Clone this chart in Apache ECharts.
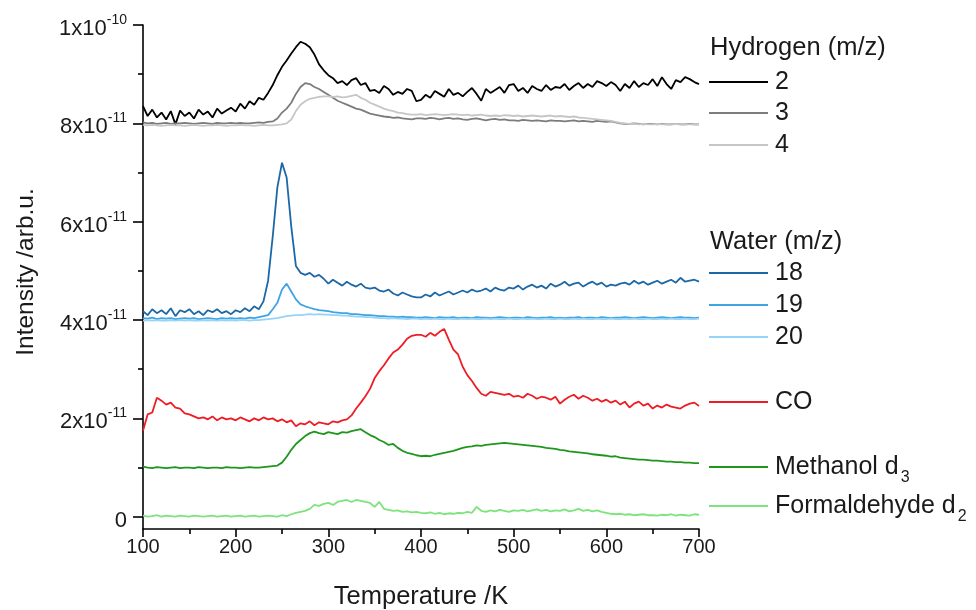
<!DOCTYPE html>
<html>
<head>
<meta charset="utf-8">
<script src="https://cdn.jsdelivr.net/npm/echarts@6/dist/echarts.min.js"></script>
<style>
  html, body { margin: 0; padding: 0; background: #fff; }
  #chart { width: 976px; height: 610px; }
</style>
</head>
<body>
<div id="chart"></div>
<script>
// Temperature programmed desorption traces, intensity in units of 1e-11 (arb.u.)
const TEMPS = [100,105,110,115,120,125,130,135,140,145,150,155,160,165,170,175,180,185,190,195,
  200,205,210,215,220,225,230,235,240,245,250,255,260,265,270,275,280,285,290,295,
  300,305,310,315,320,325,330,335,340,345,350,355,360,365,370,375,380,385,390,395,
  400,405,410,415,420,425,430,435,440,445,450,455,460,465,470,475,480,485,490,495,
  500,505,510,515,520,525,530,535,540,545,550,555,560,565,570,575,580,585,590,595,
  600,605,610,615,620,625,630,635,640,645,650,655,660,665,670,675,680,685,690,695,700];

const H_MZ2 = [8.35,8.15,8.28,8.12,8.22,8.08,8.25,7.98,8.26,8.15,
  8.22,8.10,8.28,8.18,8.24,8.12,8.30,8.20,8.26,8.32,
  8.24,8.40,8.30,8.45,8.38,8.52,8.48,8.62,8.78,8.98,
  9.15,9.28,9.42,9.55,9.66,9.62,9.55,9.40,9.20,9.08,
  8.98,8.92,8.82,8.86,8.78,8.88,8.92,8.78,8.82,8.66,
  8.68,8.62,8.76,8.70,8.58,8.64,8.60,8.70,8.66,8.45,
  8.48,8.58,8.52,8.66,8.60,8.54,8.70,8.58,8.62,8.55,
  8.64,8.72,8.60,8.46,8.70,8.62,8.68,8.74,8.62,8.78,
  8.80,8.66,8.72,8.62,8.76,8.70,8.66,8.78,8.68,8.74,
  8.72,8.80,8.68,8.76,8.82,8.72,8.80,8.74,8.86,8.82,
  8.76,8.84,8.78,8.66,8.80,8.72,8.86,8.74,8.82,8.78,
  8.90,8.76,8.94,8.80,8.70,8.88,8.84,8.94,8.90,8.84,8.80];

const H_MZ3 = [8.02,8.00,8.01,7.99,8.00,8.01,7.99,8.00,8.00,8.01,
  8.00,7.99,8.00,8.01,8.00,7.99,8.01,8.00,8.00,8.01,
  8.00,8.01,8.00,8.00,8.01,8.02,8.01,8.03,8.04,8.10,
  8.22,8.30,8.42,8.60,8.74,8.82,8.80,8.74,8.70,8.64,
  8.58,8.52,8.46,8.42,8.38,8.34,8.30,8.28,8.24,8.20,
  8.18,8.16,8.14,8.13,8.11,8.12,8.10,8.09,8.08,8.10,
  8.10,8.09,8.11,8.10,8.08,8.10,8.11,8.09,8.10,8.08,
  8.07,8.09,8.10,8.08,8.06,8.08,8.09,8.07,8.08,8.06,
  8.06,8.05,8.07,8.06,8.05,8.06,8.05,8.04,8.06,8.05,
  8.05,8.04,8.05,8.06,8.04,8.05,8.04,8.03,8.05,8.04,
  8.03,8.04,8.02,8.00,7.99,7.99,8.00,7.99,7.98,7.99,
  7.99,7.98,7.99,7.98,7.98,7.99,7.98,7.98,7.99,7.98,7.98];

const H_MZ4 = [7.97,7.96,7.97,7.96,7.95,7.96,7.97,7.96,7.96,7.95,
  7.96,7.97,7.96,7.95,7.96,7.96,7.97,7.96,7.95,7.96,
  7.96,7.97,7.96,7.96,7.95,7.96,7.97,7.96,7.96,7.97,
  7.98,8.00,8.08,8.25,8.38,8.45,8.50,8.52,8.54,8.55,
  8.55,8.54,8.55,8.53,8.54,8.56,8.58,8.52,8.48,8.42,
  8.38,8.34,8.30,8.27,8.25,8.22,8.21,8.19,8.18,8.18,
  8.19,8.17,8.18,8.19,8.18,8.17,8.18,8.19,8.18,8.17,
  8.18,8.16,8.17,8.18,8.16,8.15,8.16,8.15,8.17,8.16,
  8.15,8.16,8.14,8.15,8.16,8.15,8.14,8.15,8.16,8.14,
  8.15,8.14,8.13,8.14,8.12,8.11,8.10,8.09,8.08,8.07,
  8.06,8.05,8.03,8.01,8.00,7.99,7.99,7.98,7.99,7.98,
  7.98,7.99,7.98,7.98,7.98,7.99,7.98,7.98,7.98,7.98,7.98];

const W_MZ18 = [4.18,4.10,4.22,4.14,4.20,4.12,4.24,4.08,4.20,4.16,
  4.22,4.12,4.18,4.10,4.20,4.16,4.22,4.14,4.18,4.12,
  4.20,4.16,4.24,4.18,4.28,4.22,4.38,4.80,5.70,6.70,
  7.20,6.90,5.90,5.10,4.96,4.92,4.96,4.88,4.92,4.84,
  4.74,4.82,4.76,4.70,4.78,4.72,4.68,4.74,4.66,4.64,
  4.66,4.60,4.58,4.62,4.54,4.50,4.56,4.52,4.48,4.46,
  4.46,4.52,4.48,4.56,4.50,4.54,4.58,4.52,4.56,4.60,
  4.56,4.62,4.58,4.60,4.64,4.58,4.66,4.62,4.60,4.66,
  4.64,4.70,4.62,4.68,4.72,4.66,4.70,4.64,4.74,4.68,
  4.72,4.78,4.70,4.74,4.76,4.68,4.74,4.78,4.72,4.76,
  4.68,4.72,4.70,4.74,4.76,4.72,4.80,4.74,4.78,4.72,
  4.76,4.80,4.74,4.78,4.82,4.76,4.86,4.78,4.80,4.82,4.78];

const W_MZ19 = [4.04,4.03,4.05,4.02,4.04,4.03,4.04,4.02,4.03,4.04,
  4.03,4.04,4.02,4.03,4.04,4.03,4.02,4.04,4.03,4.04,
  4.03,4.04,4.03,4.05,4.04,4.06,4.08,4.10,4.22,4.35,
  4.62,4.74,4.58,4.42,4.32,4.28,4.25,4.22,4.20,4.19,
  4.18,4.16,4.15,4.14,4.14,4.12,4.12,4.11,4.10,4.10,
  4.09,4.08,4.08,4.07,4.07,4.06,4.07,4.06,4.06,4.05,
  4.05,4.06,4.05,4.04,4.06,4.05,4.05,4.06,4.04,4.05,
  4.05,4.04,4.06,4.05,4.05,4.04,4.05,4.06,4.05,4.04,
  4.05,4.05,4.04,4.06,4.05,4.04,4.05,4.05,4.06,4.04,
  4.05,4.04,4.05,4.05,4.06,4.04,4.05,4.05,4.04,4.06,
  4.05,4.04,4.05,4.05,4.06,4.05,4.04,4.05,4.06,4.05,
  4.04,4.05,4.06,4.05,4.04,4.05,4.06,4.05,4.05,4.04,4.05];

const W_MZ20 = [3.99,4.00,3.99,4.00,3.99,3.99,4.00,3.99,4.00,3.99,
  4.00,3.99,3.99,4.00,3.99,4.00,3.99,4.00,3.99,4.00,
  3.99,4.00,4.00,3.99,4.00,4.00,4.01,4.02,4.03,4.04,
  4.06,4.08,4.09,4.10,4.10,4.11,4.12,4.11,4.12,4.11,
  4.11,4.10,4.10,4.09,4.09,4.08,4.07,4.07,4.06,4.06,
  4.05,4.04,4.04,4.03,4.04,4.03,4.03,4.02,4.03,4.03,
  4.02,4.03,4.02,4.03,4.02,4.02,4.03,4.02,4.02,4.03,
  4.02,4.03,4.02,4.02,4.03,4.02,4.03,4.02,4.02,4.03,
  4.02,4.02,4.03,4.02,4.03,4.02,4.02,4.03,4.02,4.02,
  4.03,4.02,4.02,4.03,4.02,4.03,4.02,4.02,4.03,4.02,
  4.02,4.03,4.02,4.02,4.03,4.02,4.03,4.02,4.02,4.03,
  4.02,4.02,4.03,4.02,4.03,4.02,4.02,4.03,4.02,4.02,4.03];

const CO_MZ = [1.75,2.08,2.12,2.42,2.36,2.28,2.32,2.22,2.20,2.10,
  2.08,2.04,2.00,2.02,1.98,2.04,1.96,2.02,1.98,2.00,
  1.96,2.02,1.98,1.94,2.00,1.96,2.02,1.98,2.00,1.94,
  1.98,1.92,1.96,1.84,1.90,1.88,1.94,1.86,1.92,1.90,
  1.88,1.94,1.92,1.96,1.98,2.06,2.20,2.32,2.45,2.60,
  2.82,2.96,3.08,3.22,3.34,3.40,3.50,3.62,3.68,3.70,
  3.70,3.66,3.74,3.68,3.76,3.82,3.60,3.40,3.30,3.05,
  2.88,2.76,2.62,2.50,2.46,2.54,2.52,2.50,2.48,2.50,
  2.44,2.46,2.42,2.50,2.46,2.40,2.44,2.42,2.38,2.44,
  2.30,2.38,2.44,2.48,2.40,2.46,2.42,2.36,2.40,2.34,
  2.38,2.32,2.36,2.28,2.34,2.22,2.30,2.34,2.26,2.30,
  2.20,2.26,2.22,2.28,2.24,2.22,2.20,2.26,2.30,2.32,2.25];

const METHANOL_D3 = [1.02,1.00,0.99,1.01,1.00,0.99,1.00,1.01,0.99,1.00,
  1.00,0.99,1.01,1.00,0.99,1.00,1.00,0.99,1.01,1.00,
  1.00,0.99,1.00,1.01,1.00,1.00,1.01,1.02,1.03,1.04,
  1.10,1.22,1.36,1.48,1.56,1.64,1.70,1.73,1.70,1.68,
  1.72,1.70,1.68,1.72,1.71,1.74,1.76,1.78,1.72,1.66,
  1.62,1.56,1.52,1.46,1.48,1.40,1.34,1.30,1.28,1.25,
  1.23,1.24,1.23,1.26,1.28,1.30,1.32,1.34,1.37,1.40,
  1.42,1.43,1.45,1.44,1.46,1.47,1.48,1.49,1.50,1.49,
  1.48,1.47,1.46,1.45,1.44,1.43,1.42,1.40,1.39,1.38,
  1.36,1.35,1.33,1.32,1.31,1.30,1.29,1.27,1.26,1.25,
  1.24,1.22,1.23,1.20,1.19,1.18,1.17,1.16,1.16,1.15,
  1.14,1.14,1.13,1.12,1.12,1.11,1.11,1.10,1.10,1.09,1.09];

const FORMALDEHYDE_D2 = [0.02,0.00,0.01,0.03,0.00,0.02,0.01,0.00,0.02,0.01,
  0.00,0.02,0.01,0.00,0.01,0.02,0.00,0.01,0.02,0.00,
  0.01,0.02,0.00,0.01,0.02,0.00,0.01,0.02,0.01,0.00,
  0.03,0.01,0.05,0.08,0.10,0.12,0.16,0.24,0.22,0.26,
  0.28,0.24,0.30,0.32,0.34,0.30,0.34,0.32,0.30,0.28,
  0.20,0.30,0.16,0.14,0.12,0.13,0.10,0.11,0.09,0.10,
  0.08,0.07,0.09,0.06,0.08,0.05,0.07,0.06,0.08,0.07,
  0.10,0.08,0.20,0.12,0.10,0.13,0.11,0.14,0.12,0.10,
  0.13,0.12,0.14,0.11,0.13,0.15,0.12,0.14,0.11,0.13,
  0.12,0.15,0.11,0.13,0.16,0.12,0.14,0.11,0.13,0.10,
  0.08,0.06,0.05,0.06,0.04,0.05,0.03,0.04,0.05,0.03,
  0.03,0.02,0.04,0.03,0.05,0.02,0.04,0.03,0.02,0.05,0.04];

const Y_TICKS = [0, 2e-11, 4e-11, 6e-11, 8e-11, 1e-10];
const Y_MINOR_TICKS = [1e-11, 3e-11, 5e-11, 7e-11, 9e-11];
const Y_MIN = -2.5e-12;
const Y_MAX = 1.0001e-10;
const UNIT = 1e-11;

const FONT = '"Liberation Sans", Arial, Helvetica, sans-serif';
const INK = '#1a1a1a';

// name, colour, values, legend row y
const TRACES = [
  { name: '2',  color: '#000000', values: H_MZ2,  row: 82 },
  { name: '3',  color: '#7c7c7c', values: H_MZ3,  row: 113 },
  { name: '4',  color: '#c6c6c6', values: H_MZ4,  row: 145 },
  { name: '18', color: '#1c68a6', values: W_MZ18, row: 273 },
  { name: '19', color: '#3ea4e4', values: W_MZ19, row: 305 },
  { name: '20', color: '#96d3f6', values: W_MZ20, row: 337 },
  { name: 'CO', color: '#ee1c24', values: CO_MZ, row: 402 },
  { name: 'Methanol d|3', color: '#1e961e', values: METHANOL_D3, row: 467 },
  { name: 'Formaldehyde d|2', color: '#7de37d', values: FORMALDEHYDE_D2, row: 506 }
];
const GROUP_TITLES = [
  { text: 'Hydrogen (m/z)', row: 48 },
  { text: 'Water (m/z)', row: 242 }
];

function sciLabel(v) {
  if (Math.abs(v) < 1e-15) return '{m|0}';
  const exp = Math.floor(Math.log10(v) + 1e-9);
  const mant = Math.round(v / Math.pow(10, exp));
  return '{m|' + mant + 'x10}{e|' + exp + '}';
}

const series = TRACES.map(t => ({
  name: t.name,
  type: 'line',
  showSymbol: false,
  symbol: 'none',
  silent: true,
  lineStyle: { color: t.color, width: 1.8 },
  data: TEMPS.map((x, i) => [x, t.values[i] * UNIT])
}));

// legend block on the right
const LEGEND_FONT = 25;
const graphic = [];
GROUP_TITLES.forEach(g => {
  graphic.push({
    type: 'text', x: 710, y: g.row,
    style: { text: g.text, fill: INK, fontSize: 25.5, fontFamily: FONT, verticalAlign: 'middle' }
  });
});
TRACES.forEach(t => {
  graphic.push({
    type: 'line',
    shape: { x1: 709, y1: t.row, x2: 768, y2: t.row },
    style: { stroke: t.color, lineWidth: 2 }
  });
  const parts = t.name.split('|');
  const text = parts.length > 1 ? '{a|' + parts[0] + '}{s|' + parts[1] + '}' : '{a|' + parts[0] + '}';
  graphic.push({
    type: 'text', x: 775, y: t.row,
    style: {
      text: text, fill: INK, fontFamily: FONT, verticalAlign: 'middle',
      rich: {
        a: { fontSize: LEGEND_FONT, fontFamily: FONT, fill: INK, color: INK },
        s: { fontSize: 16, fontFamily: FONT, fill: INK, color: INK, padding: [22, 0, 0, 2] }
      }
    }
  });
});

const chart = echarts.init(document.getElementById('chart'), null, { renderer: 'canvas' });
chart.setOption({
  animation: false,
  backgroundColor: '#ffffff',
  grid: { left: 143, right: 277, top: 25, bottom: 81, containLabel: false, outerBoundsMode: 'none' },
  xAxis: {
    type: 'value',
    min: 100, max: 700, interval: 100,
    name: 'Temperature /K',
    nameLocation: 'middle',
    nameGap: 55,
    nameTextStyle: { fontSize: 25.5, color: INK, fontFamily: FONT },
    axisLine: { show: true, onZero: false, lineStyle: { color: '#000', width: 1.6 } },
    axisTick: { show: true, inside: false, length: 8, lineStyle: { color: '#000', width: 1.6 } },
    minorTick: { show: true, splitNumber: 2, length: 5, lineStyle: { color: '#000', width: 1.6 } },
    axisLabel: { fontSize: 20, color: INK, fontFamily: FONT, margin: 8 },
    splitLine: { show: false },
    minorSplitLine: { show: false }
  },
  yAxis: [{
    type: 'value',
    min: Y_MIN, max: Y_MAX,
    name: 'Intensity /arb.u.',
    nameLocation: 'middle',
    nameGap: 104,
    nameRotate: 90,
    nameTextStyle: { fontSize: 24.5, color: INK, fontFamily: FONT, padding: [0, 0, 0, 10] },
    axisLine: { show: true, onZero: false, lineStyle: { color: '#000', width: 1.6 } },
    axisTick: { show: true, inside: false, length: 10, customValues: Y_TICKS, lineStyle: { color: '#000', width: 1.6 } },
    axisLabel: {
      customValues: Y_TICKS,
      margin: 16,
      fontSize: 22,
      color: INK,
      formatter: sciLabel,
      rich: {
        m: { fontSize: 22, color: INK, fontFamily: FONT, padding: [8, 0, 0, 0] },
        e: { fontSize: 14, color: INK, fontFamily: FONT, padding: [0, 0, 10, 0] }
      }
    },
    splitLine: { show: false }
  }, {
    type: 'value',
    min: Y_MIN, max: Y_MAX,
    position: 'left',
    axisLine: { show: false },
    axisTick: { show: true, inside: false, length: 5, customValues: Y_MINOR_TICKS, lineStyle: { color: '#000', width: 1.6 } },
    axisLabel: { show: false },
    splitLine: { show: false }
  }],
  series: series,
  graphic: graphic
});
</script>
</body>
</html>
